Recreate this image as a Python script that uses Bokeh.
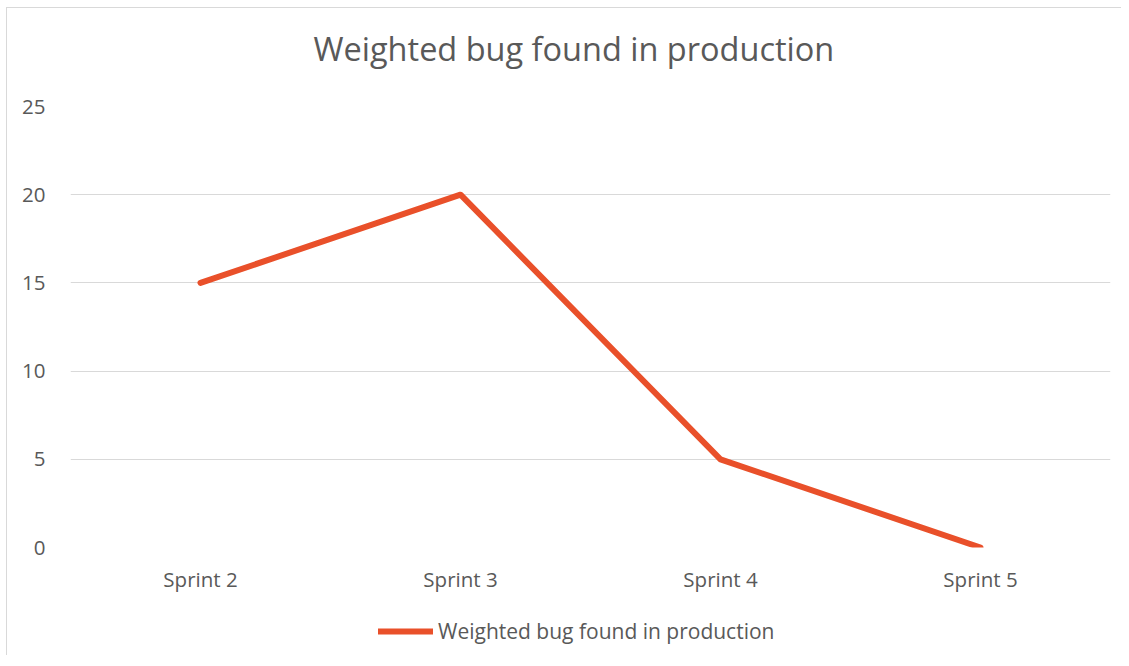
from bokeh.plotting import figure
from bokeh.layouts import column
from bokeh.models import Range1d, FactorRange, Legend, LegendItem, FixedTicker, Title
from bokeh.embed import file_html
from bokeh.resources import INLINE

categories = ["Sprint 2", "Sprint 3", "Sprint 4", "Sprint 5"]
values = [15, 20, 5, 0]
series_name = "Weighted bug found in production"
y_ticks = [0, 5, 10, 15, 20, 25]

FONT = "Open Sans"
TXT = "#595959"
LINE = "#E9502A"

p = figure(frame_width=1040, frame_height=441, output_backend="svg", toolbar_location=None,
           x_range=FactorRange(*categories, range_padding=0),
           y_range=Range1d(0, 25),
           min_border_left=70, min_border_right=11, min_border_top=106, min_border_bottom=60)
p.border_fill_color = None
p.background_fill_color = None

p.title.text = series_name
p.title.align = "left"
p.title.offset = 243
p.title.text_font = FONT
p.title.text_font_size = "32.5px"
p.title.text_font_style = "normal"
p.title.text_color = TXT
p.title.standoff = 45

# small empty spacer between the title and the plot area
p.add_layout(Title(text=" ", text_font_size="10px", standoff=0), "above")

r = p.line(x=categories, y=values, line_color=LINE, line_width=6,
           line_cap="round", line_join="round")

p.outline_line_color = None
p.xgrid.grid_line_color = None
p.ygrid.grid_line_color = "#D9D9D9"
p.ygrid.grid_line_width = 1
p.yaxis.ticker = FixedTicker(ticks=y_ticks)

for ax in (p.xaxis[0], p.yaxis[0]):
    ax.axis_line_color = None
    ax.major_tick_line_color = None
    ax.minor_tick_line_color = None
    ax.major_tick_out = 0
    ax.major_tick_in = 0
    ax.major_label_text_font = FONT
    ax.major_label_text_font_size = "20.5px"
    ax.major_label_text_color = TXT
p.yaxis.major_label_standoff = 25
p.xaxis.major_label_standoff = 17

# legend strip: a second figure holding the same series (kept outside its visible range)
lg = figure(width=1121, height=48, output_backend="svg", toolbar_location=None,
            x_range=FactorRange(*categories), y_range=Range1d(100, 101),
            min_border=0)
lg.border_fill_color = None
lg.background_fill_color = None
lg.outline_line_color = None
lg.axis.visible = False
lg.grid.visible = False
r2 = lg.line(x=categories, y=values, line_color=LINE, line_width=6,
             line_cap="round", line_join="round")
legend = Legend(items=[LegendItem(label=series_name, renderers=[r2])],
                location=(308, 10), orientation="horizontal",
                label_text_font=FONT, label_text_font_size="21px", label_text_color=TXT,
                glyph_width=55, glyph_height=20, label_standoff=5,
                border_line_color=None, background_fill_alpha=0,
                margin=0, padding=0)
lg.add_layout(legend)

layout = column(p, lg, spacing=0)
layout.styles = {"box-shadow": "inset 6px 7px 0 0 #ffffff, inset 7px 8px 0 0 #D9D9D9",
                 "background-color": "#ffffff"}

open("out.html", "w").write(file_html(layout, INLINE))
